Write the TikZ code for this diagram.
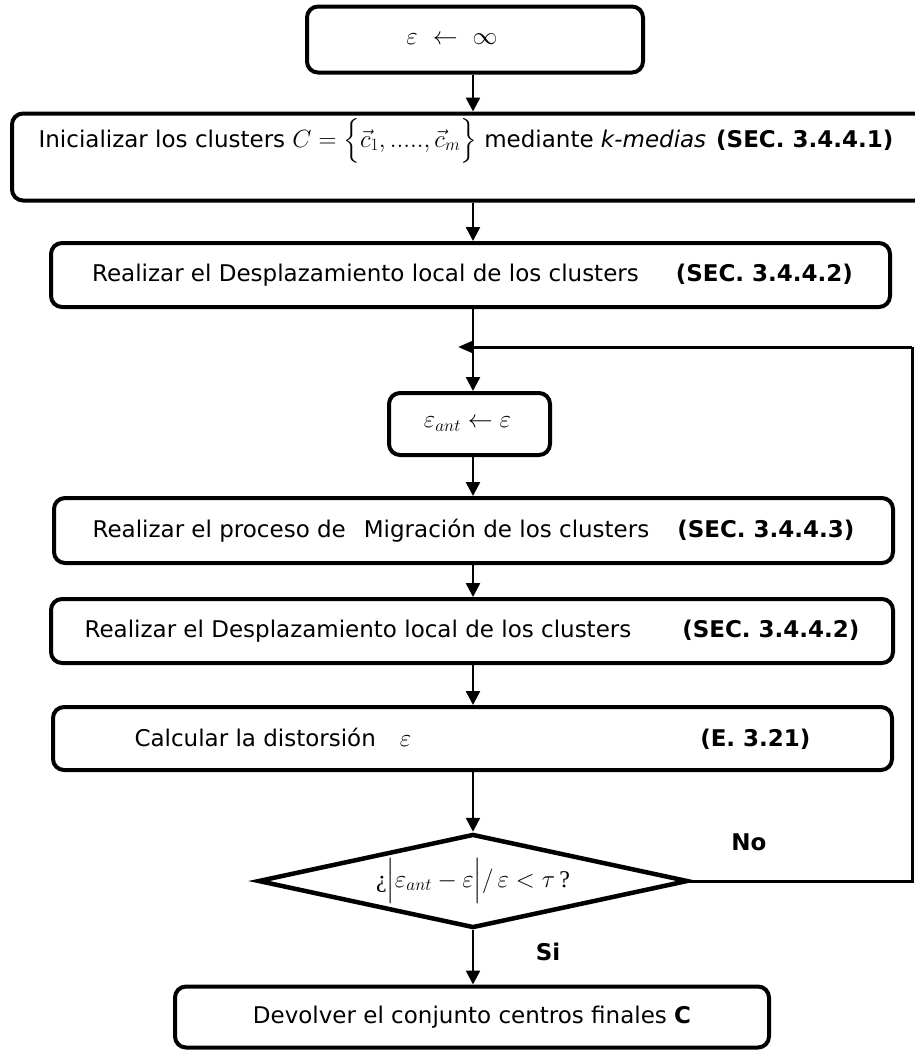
\documentclass[tikz,border=0pt]{standalone}
\usepackage{amsmath}
\usepackage{fontspec}
\setmainfont{DejaVu Sans}
\newfontfamily\seriffont{Liberation Serif}
\usetikzlibrary{arrows.meta,shapes.geometric}

\begin{document}
\begin{tikzpicture}[x=1pt,y=-1pt,
  box/.style={draw, line width=4pt, rounded corners=11pt, inner sep=0pt,
              font=\fontsize{23}{27}\selectfont},
  txt/.style={inner sep=0pt, font=\fontsize{23}{27}\selectfont},
  lab/.style={inner sep=0pt, font=\fontsize{23}{27}\selectfont\bfseries},
  decision/.style={diamond, draw, line width=4.5pt, inner sep=0pt, aspect=4.57,
              minimum width=430pt, minimum height=94pt,
              font=\fontsize{24}{28}\selectfont},
  tip/.style={-{Triangle[length=14pt,width=14pt]}},
  link/.style={line width=2.5pt, tip},
  wire/.style={line width=3pt}]

\useasboundingbox (0,0) rectangle (915,1050);
\clip (0,0) rectangle (915,1050);

% initialisation of the distortion
\node[box, minimum width=336pt, minimum height=66pt,
      font=\fontsize{26}{30}\selectfont] (b1) at (475,39.5)
  {${\varepsilon}\hspace{15pt}{\leftarrow}\hspace{15pt}{\infty}$\hspace*{46pt}};

% k-means initialisation (box runs past the right margin)
\node[box, minimum width=940pt, minimum height=87pt] (b2) at (482,157) {};
\node[txt] (t2) at (466,141)
  {Inicializar los clusters $C=\Bigl\{\vec{c}_1,.....,\vec{c}_m\Bigr\}$ mediante \textit{k-medias}\hspace*{10pt}\textbf{(SEC. 3.4.4.1)}};

\node[box, minimum width=839pt, minimum height=64pt] (b3) at (470.5,275)
  {Realizar el Desplazamiento local de los clusters\hspace*{37pt}\textbf{(SEC. 3.4.4.2)}\hspace*{-4pt}};

\node[box, minimum width=161pt, minimum height=62pt,
      font=\fontsize{27}{31}\selectfont] (b4) at (469.5,424)
  {$\varepsilon_{ant}\leftarrow\varepsilon$\hspace*{4pt}};

\node[box, minimum width=839pt, minimum height=65pt] (b5) at (473.5,530.5)
  {Realizar el proceso de\hspace*{18pt}Migración de los clusters\hspace*{28pt}\textbf{(SEC. 3.4.4.3)}};

\node[box, minimum width=842pt, minimum height=64pt] (b6) at (472,631)
  {Realizar el Desplazamiento local de los clusters\hspace*{51pt}\textbf{(SEC. 3.4.4.2)}};

\node[box, minimum width=839pt, minimum height=63pt] (b7) at (472.5,738.5)
  {Calcular la distorsión\hspace*{24pt}$\varepsilon$\hspace*{289pt}\textbf{(E. 3.21)}};

\node[decision] (d) at (473,881)
  {{\seriffont ¿}$\Bigl|\varepsilon_{ant}-\varepsilon\Bigr|/\,\varepsilon<\tau\,${\seriffont ?}};

\node[box, minimum width=594pt, minimum height=61pt] (b8) at (472,1017)
  {Devolver el conjunto centros finales \textbf{C}};

\node[lab] (no) at (749,842) {No};
\node[lab] (si) at (548,952) {Si};

% main flow
\draw[link] (b1.south -| 473,0) -- (b2.north -| 473,0);
\draw[link] (b2.south -| 473,0) -- (b3.north -| 473,0);
\draw[link] (b3.south -| 473,0) -- (b4.north -| 473,0);
\draw[link] (b4.south -| 473,0) -- (b5.north -| 473,0);
\draw[link] (b5.south -| 473,0) -- (b6.north -| 473,0);
\draw[link] (b6.south -| 473,0) -- (b7.north -| 473,0);
\draw[link] (b7.south -| 473,0) -- (d.north);
\draw[link] (d.south) -- (b8.north -| 473,0);

% loop back when the relative change is still too large
\coordinate (corner) at (912,347);
\coordinate (join) at (458,347);
\draw[wire] (d.east) -| (corner);
\draw[wire, -{Triangle[length=15pt,width=12pt]}] (corner) -- (join);
\end{tikzpicture}
\end{document}
